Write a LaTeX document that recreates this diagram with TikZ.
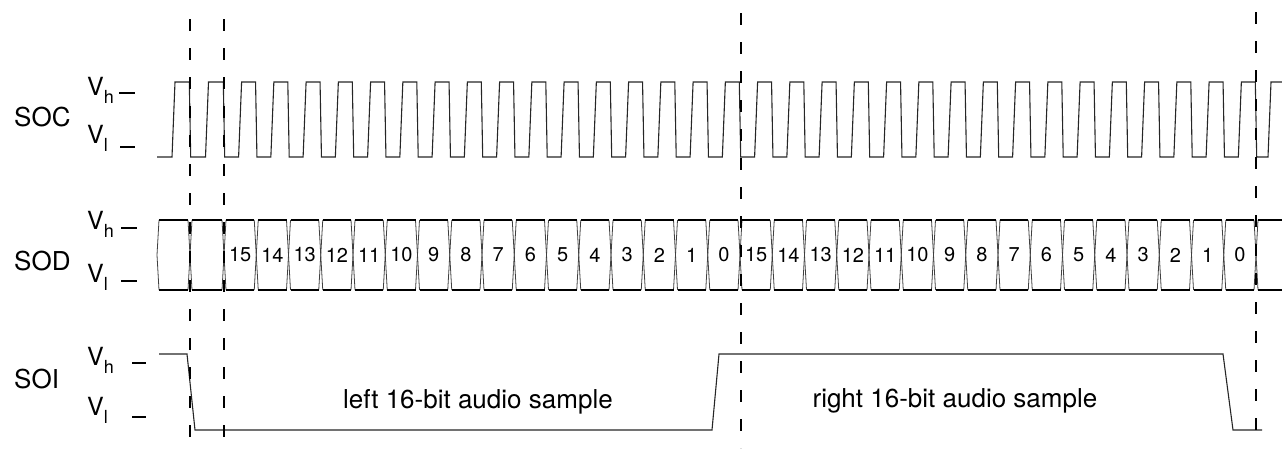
\documentclass[tikz,border=0pt]{standalone}
\usepackage{fontspec}
\setmainfont{TeX Gyre Heros}
\newcommand\lsub[1]{\raisebox{-8pt}{\fontsize{18}{18}\selectfont #1}}
\begin{document}
\begin{tikzpicture}[x=1pt,y=-1pt,
  wave/.style={draw=black!85,line width=1.1pt,line join=miter},
  busline/.style={draw=black,line width=2pt},
  cellside/.style={draw=black!75,line width=0.8pt},
  dashline/.style={draw=black,line width=2pt,dash pattern=on 12pt off 17pt},
  lvltick/.style={draw=black,line width=1.6pt},
  sig/.style={font=\fontsize{26}{26}\selectfont,anchor=base west,inner sep=0pt},
  lvl/.style={font=\fontsize{25}{25}\selectfont,anchor=base west,inner sep=0pt},
  bit/.style={font=\fontsize{20}{20}\selectfont,inner sep=0pt},
  capt/.style={font=\fontsize{26}{26}\selectfont,anchor=base,inner sep=0pt}]
\useasboundingbox (0,0) rectangle (1282,448);

% ---------- signal names and levels ----------
\node[sig] (soc) at (14,126) {SOC};
\node[sig] (sod) at (14,270) {SOD};
\node[sig] (soi) at (14,388) {SOI};

\node[lvl] (sochi) at (87,95) {V\lsub{h}};
\node[lvl] (soclo) at (87,143) {V\lsub{l}};
\node[lvl] (sodhi) at (87,229) {V\lsub{h}};
\node[lvl] (sodlo) at (87,282) {V\lsub{l}};
\node[lvl] (soihi) at (87,365) {V\lsub{h}};
\node[lvl] (soilo) at (87,415) {V\lsub{l}};

\draw[lvltick] (119,93) -- (135,93);
\draw[lvltick] (120,147) -- (135,147);
\draw[lvltick] (121,228) -- (137,228);
\draw[lvltick] (121,281) -- (137,281);
\draw[lvltick] (132,363) -- (146,363);
\draw[lvltick] (132,417) -- (146,417);

% ---------- SOC clock ----------
\draw[wave] (157,157) -- (172,157) -- (175,82) -- (189.3,82) -- (190.7,157)
  -- (205.5,157) -- (208.5,82) -- (223.3,82) -- (224.7,157)
  \foreach \k in {2,...,33}{
    -- ({224+(\k-2)*32.25+14.6},157) -- ({224+(\k-2)*32.25+17.6},82)
    -- ({224+(\k-1)*32.25-0.7},82) -- ({224+(\k-1)*32.25+0.7},157) }
  -- (1268,157) -- (1271,82) -- (1282,82);

% ---------- SOD data cells ----------
\foreach \k in {0,...,33}{
  \ifnum\k=0 \def\bl{157}\def\br{190}\else
  \ifnum\k=1 \def\bl{190}\def\br{224}\else
    \pgfmathsetmacro\bl{224+(\k-2)*32.25}\pgfmathsetmacro\br{\bl+32.25}\fi\fi
  \draw[cellside] ({\bl+2},220) -- (\bl,255) -- ({\bl+2},290);
  \draw[cellside] ({\br-2},220) -- (\br,255) -- ({\br-2},290);
  \draw[busline] ({\bl+2},220) -- ({\br-2},220);
  \draw[busline] ({\bl+2},290) -- ({\br-2},290);
  \ifnum\k>1
    \pgfmathtruncatemacro\bitno{\k>17 ? 33-\k : 17-\k}
    \node[bit] (d\k) at ({(\bl+\br)/2},255) {\bitno};
  \fi
}
\draw[cellside] (1258,220) -- (1256,255) -- (1258,290);
\draw[busline] (1258,220) -- (1283,220);
\draw[busline] (1258,290) -- (1283,290);

% ---------- SOI ----------
\draw[wave] (159,354) -- (187,354) -- (195,430) -- (712,430) -- (719,354)
  -- (1223,354) -- (1233,430) -- (1262,430);
\node[capt] (lefts) at (478,408) {left 16-bit audio sample};
\node[capt] (rights) at (955,407) {right 16-bit audio sample};

% ---------- dashed frame markers ----------
\draw[dashline] (190,19) -- (190,448);
\draw[dashline] (224,19) -- (224,448);
\draw[dashline] (741,13) -- (741,448);
\draw[dashline] (1256,12) -- (1256,434);
\end{tikzpicture}
\end{document}
